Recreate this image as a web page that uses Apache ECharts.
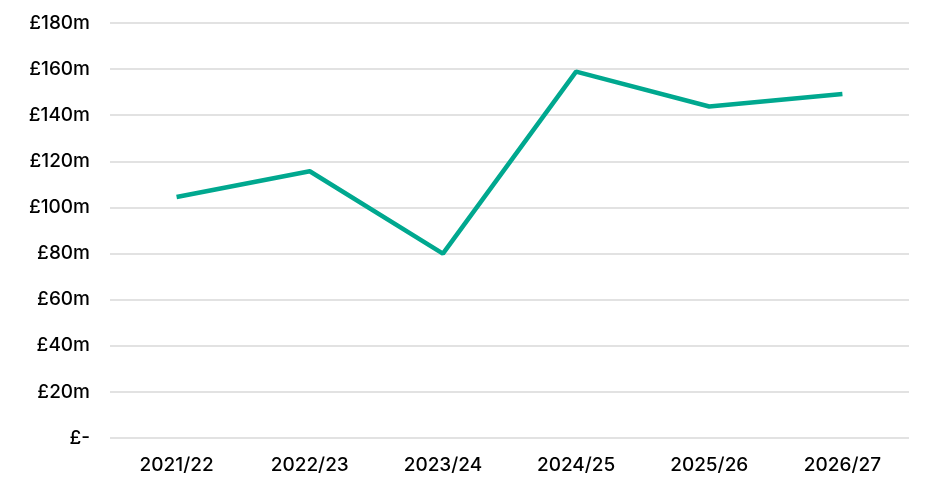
<!DOCTYPE html>
<html>
<head>
<meta charset="utf-8">
<script src="https://cdn.jsdelivr.net/npm/echarts@6/dist/echarts.min.js"></script>
<style>
  html, body { margin: 0; padding: 0; background: #fff; }
  #chart { width: 931px; height: 492px; }
</style>
</head>
<body>
<div id="chart"></div>
<script>
var years = ['2021/22', '2022/23', '2023/24', '2024/25', '2025/26', '2026/27'];
var values = [104.5, 115.7, 80, 158.9, 143.8, 149.2];
var yTicks = [0, 20, 40, 60, 80, 100, 120, 140, 160, 180];

var myChart = echarts.init(document.getElementById('chart'));
var labelFont = 'Inter';
var option = {
    animation: false,
    grid: { left: 110, right: 22, top: 23, bottom: 54 },
    textStyle: { fontFamily: labelFont, color: '#000' },
    xAxis: {
        type: 'category',
        data: years,
        boundaryGap: true,
        axisLine: { show: false },
        axisTick: { show: false },
        axisLabel: { color: '#000', fontSize: 19, fontWeight: 500, margin: 18, fontFamily: labelFont }
    },
    yAxis: {
        type: 'value',
        min: yTicks[0],
        max: yTicks[yTicks.length - 1],
        interval: 20,
        axisLine: { show: false },
        axisTick: { show: false },
        splitLine: { lineStyle: { color: '#d9d9d9', width: 1.5 } },
        axisLabel: {
            color: '#000', fontSize: 19, fontWeight: 500, margin: 20, fontFamily: labelFont,
            formatter: function (v) { return v === 0 ? '£-' : '£' + v + 'm'; }
        }
    },
    series: [{
        type: 'line',
        data: values,
        symbol: 'none',
        lineStyle: { color: '#00a88f', width: 4.5 }
    }]
};
myChart.setOption(option);
</script>
</body>
</html>
